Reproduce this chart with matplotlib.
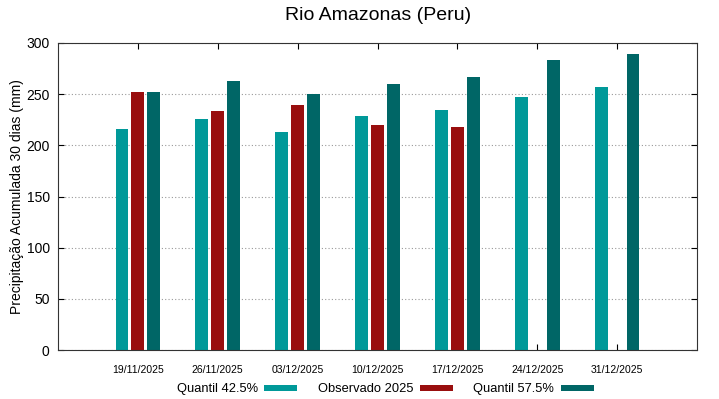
import numpy as np
import matplotlib
matplotlib.use("Agg")
import matplotlib.pyplot as plt

plt.rcParams['font.family'] = ['Liberation Sans', 'DejaVu Sans']

# data
datas = ["19/11/2025", "26/11/2025", "03/12/2025", "10/12/2025",
         "17/12/2025", "24/12/2025", "31/12/2025"]
q425 = [216, 226, 213, 229, 235, 247, 257]
obs2025 = [252, 234, 239, 220, 218, np.nan, np.nan]
q575 = [252, 263, 250, 260, 267, 283, 289]

cor_q425 = "#009999"
cor_obs = "#990e0e"
cor_q575 = "#006666"

fig = plt.figure(figsize=(7.19, 3.99), dpi=100)
ax = fig.add_axes([58/719, 49/399, 639/719, 307/399])

x = np.arange(len(datas))
w = 0.16
ax.bar(x - 0.2, q425, width=w, color=cor_q425, label="Quantil 42.5%")
ax.bar(x, obs2025, width=w, color=cor_obs, label="Observado 2025")
ax.bar(x + 0.2, q575, width=w, color=cor_q575, label="Quantil 57.5%")

ax.set_xlim(-1, len(datas))
ax.set_ylim(0, 300)
ax.set_yticks(range(0, 301, 50))
ax.set_xticks(x)
ax.set_xticklabels(datas, fontsize=7.5)
ax.tick_params(axis='y', labelsize=10, direction='in', right=True, length=4, pad=6)
ax.tick_params(axis='x', direction='in', top=True, length=4, pad=11)
ax.yaxis.grid(True, linestyle=(0, (1, 2)), color='#999999', linewidth=0.8)
ax.set_axisbelow(True)
for s in ax.spines.values():
    s.set_color('#333333')
    s.set_linewidth(0.8)

ax.set_ylabel("Precipitação Acumulada 30 dias (mm)", fontsize=10, labelpad=2)
fig.text(378/719, 1 - 16/399, "Rio Amazonas (Peru)", ha='center', va='center', fontsize=14)

ax.legend(loc='center', bbox_to_anchor=(0.512, -0.128), ncol=3, frameon=False,
          markerfirst=False, fontsize=9.3, handlelength=2.55, handleheight=0.35,
          columnspacing=1.6, handletextpad=0.5)

fig.savefig("out.png", dpi=100)
